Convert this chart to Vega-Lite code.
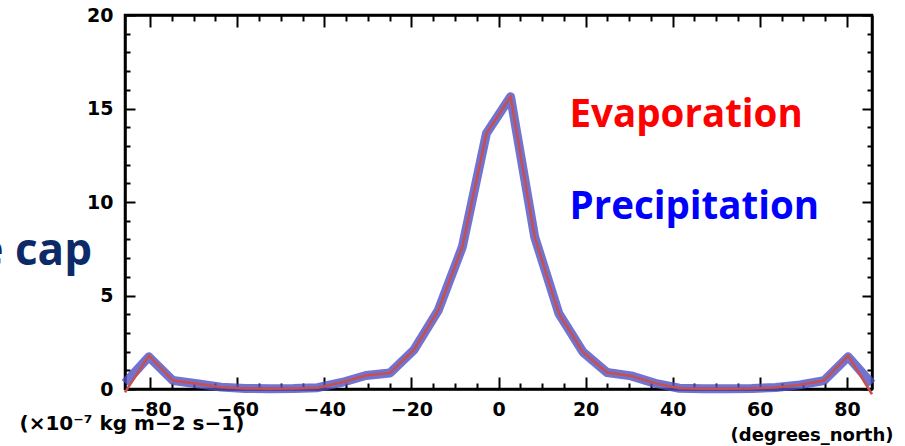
{
  "$schema": "https://vega.github.io/schema/vega-lite/v6.json",
  "width": 747,
  "height": 374,
  "autosize": {"type": "none"},
  "padding": {"left": 125, "top": 15, "right": 33, "bottom": 57},
  "background": "white",
  "config": {
    "view": {"stroke": "black", "strokeWidth": 2.5},
    "axis": {
      "grid": false,
      "domainColor": "black",
      "domainWidth": 2.5,
      "tickColor": "black",
      "tickWidth": 2,
      "labelColor": "black",
      "labelFont": "DejaVu Sans",
      "labelFontWeight": "bold",
      "labelFontSize": 19,
      "labelOverlap": false,
      "labelFlush": false,
      "titleColor": "black",
      "titleFont": "DejaVu Sans",
      "titleFontWeight": "bold",
      "titleFontSize": 18
    }
  },
  "datasets": {
    "flux": [
      {"lat": -85.76, "precip": 0.32, "evap": -0.18},
      {"lat": -80.27, "precip": 1.72, "evap": 1.78},
      {"lat": -74.74, "precip": 0.45, "evap": 0.45},
      {"lat": -69.21, "precip": 0.28, "evap": 0.28},
      {"lat": -63.68, "precip": 0.1, "evap": 0.1},
      {"lat": -58.14, "precip": 0.03, "evap": 0.03},
      {"lat": -52.61, "precip": 0.02, "evap": 0.02},
      {"lat": -47.07, "precip": 0.03, "evap": 0.03},
      {"lat": -41.53, "precip": 0.07, "evap": 0.07},
      {"lat": -36.0, "precip": 0.35, "evap": 0.35},
      {"lat": -30.46, "precip": 0.72, "evap": 0.72},
      {"lat": -24.92, "precip": 0.86, "evap": 0.86},
      {"lat": -19.38, "precip": 2.1, "evap": 2.1},
      {"lat": -13.84, "precip": 4.2, "evap": 4.2},
      {"lat": -8.3, "precip": 7.6, "evap": 7.6},
      {"lat": -2.77, "precip": 13.67, "evap": 13.67},
      {"lat": 2.77, "precip": 15.63, "evap": 15.63},
      {"lat": 8.3, "precip": 8.14, "evap": 8.14},
      {"lat": 13.84, "precip": 4.05, "evap": 4.05},
      {"lat": 19.38, "precip": 1.98, "evap": 1.98},
      {"lat": 24.92, "precip": 0.88, "evap": 0.88},
      {"lat": 30.46, "precip": 0.7, "evap": 0.7},
      {"lat": 36.0, "precip": 0.3, "evap": 0.3},
      {"lat": 41.53, "precip": 0.04, "evap": 0.04},
      {"lat": 47.07, "precip": 0.02, "evap": 0.02},
      {"lat": 52.61, "precip": 0.02, "evap": 0.02},
      {"lat": 58.14, "precip": 0.03, "evap": 0.03},
      {"lat": 63.68, "precip": 0.08, "evap": 0.08},
      {"lat": 69.21, "precip": 0.22, "evap": 0.22},
      {"lat": 74.74, "precip": 0.45, "evap": 0.45},
      {"lat": 80.27, "precip": 1.72, "evap": 1.78},
      {"lat": 85.76, "precip": 0.28, "evap": -0.28}
    ]
  },
  "layer": [
    {
      "data": {"name": "flux"},
      "mark": {"type": "line", "color": "#4f4fc4", "strokeWidth": 9, "opacity": 0.8, "strokeJoin": "round"},
      "encoding": {
        "x": {
          "field": "lat", "type": "quantitative",
          "scale": {"domain": [-85.76, 85.76], "nice": false, "zero": false},
          "axis": {
            "orient": "bottom",
            "values": [-80,-75,-70,-65,-60,-55,-50,-45,-40,-35,-30,-25,-20,-15,-10,-5,0,5,10,15,20,25,30,35,40,45,50,55,60,65,70,75,80],
            "tickSize": {"condition": {"test": "datum.value % 20 === 0", "value": -12}, "value": -6},
            "labelExpr": "datum.value % 20 === 0 ? datum.label : ''",
            "labelBaseline": "top",
            "labelPadding": 23,
            "title": "(degrees_north)",
            "titleAnchor": "end",
            "titleAlign": "right",
            "titleBaseline": "middle",
            "titleX": 768,
            "titleY": 46
          }
        },
        "y": {
          "field": "precip", "type": "quantitative",
          "scale": {"domain": [0, 20], "nice": false},
          "axis": {
            "orient": "left",
            "values": [0,1,2,3,4,5,6,7,8,9,10,11,12,13,14,15,16,17,18,19,20],
            "tickSize": {"condition": {"test": "datum.value % 5 === 0", "value": -10}, "value": -5},
            "labelExpr": "datum.value % 5 === 0 ? datum.label : ''",
            "labelPadding": 22,
            "title": "(×10⁻⁷ kg m−2 s−1)",
            "titleFontSize": 20,
            "titleAngle": 0,
            "titleAlign": "left",
            "titleBaseline": "middle",
            "titleX": -106,
            "titleY": 408
          }
        }
      }
    },
    {
      "data": {"name": "flux"},
      "mark": {"type": "line", "color": "#c8504c", "strokeWidth": 2.5},
      "encoding": {
        "x": {
          "field": "lat", "type": "quantitative",
          "scale": {"domain": [-85.76, 85.76], "nice": false, "zero": false},
          "axis": {
            "orient": "top",
            "values": [-80,-75,-70,-65,-60,-55,-50,-45,-40,-35,-30,-25,-20,-15,-10,-5,0,5,10,15,20,25,30,35,40,45,50,55,60,65,70,75,80],
            "tickSize": {"condition": {"test": "datum.value % 20 === 0", "value": -12}, "value": -6},
            "labels": false,
            "title": null
          }
        },
        "y": {
          "field": "evap", "type": "quantitative",
          "scale": {"domain": [0, 20], "nice": false},
          "axis": {
            "orient": "right",
            "values": [0,1,2,3,4,5,6,7,8,9,10,11,12,13,14,15,16,17,18,19,20],
            "tickSize": {"condition": {"test": "datum.value % 5 === 0", "value": -10}, "value": -5},
            "labels": false,
            "title": null
          }
        }
      }
    },
    {
      "data": {"values": [{"x": 16.3, "y": 14.03, "label": "Evaporation"}]},
      "mark": {"type": "text", "align": "left", "baseline": "alphabetic", "font": "Open Sans", "fontWeight": "bold", "fontSize": 38.5, "color": "#ff0000"},
      "encoding": {
        "x": {"field": "x", "type": "quantitative", "scale": {"domain": [-85.76, 85.76], "nice": false, "zero": false}, "axis": null},
        "y": {"field": "y", "type": "quantitative", "scale": {"domain": [0, 20], "nice": false}, "axis": null},
        "text": {"field": "label"}
      }
    },
    {
      "data": {"values": [{"x": 16.3, "y": 9.07, "label": "Precipitation"}]},
      "mark": {"type": "text", "align": "left", "baseline": "alphabetic", "font": "Open Sans", "fontWeight": "bold", "fontSize": 38.5, "color": "#0000ff"},
      "encoding": {
        "x": {"field": "x", "type": "quantitative", "scale": {"domain": [-85.76, 85.76], "nice": false, "zero": false}, "axis": null},
        "y": {"field": "y", "type": "quantitative", "scale": {"domain": [0, 20], "nice": false}, "axis": null},
        "text": {"field": "label"}
      }
    },
    {
      "data": {"values": [{"x": -93.34, "y": 6.63, "label": "e cap"}]},
      "mark": {"type": "text", "align": "right", "baseline": "alphabetic", "font": "Open Sans", "fontWeight": "bold", "fontSize": 44, "color": "#0d2a68"},
      "encoding": {
        "x": {"field": "x", "type": "quantitative", "scale": {"domain": [-85.76, 85.76], "nice": false, "zero": false}, "axis": null},
        "y": {"field": "y", "type": "quantitative", "scale": {"domain": [0, 20], "nice": false}, "axis": null},
        "text": {"field": "label"}
      }
    }
  ],
  "resolve": {"axis": {"x": "independent", "y": "independent"}}
}
